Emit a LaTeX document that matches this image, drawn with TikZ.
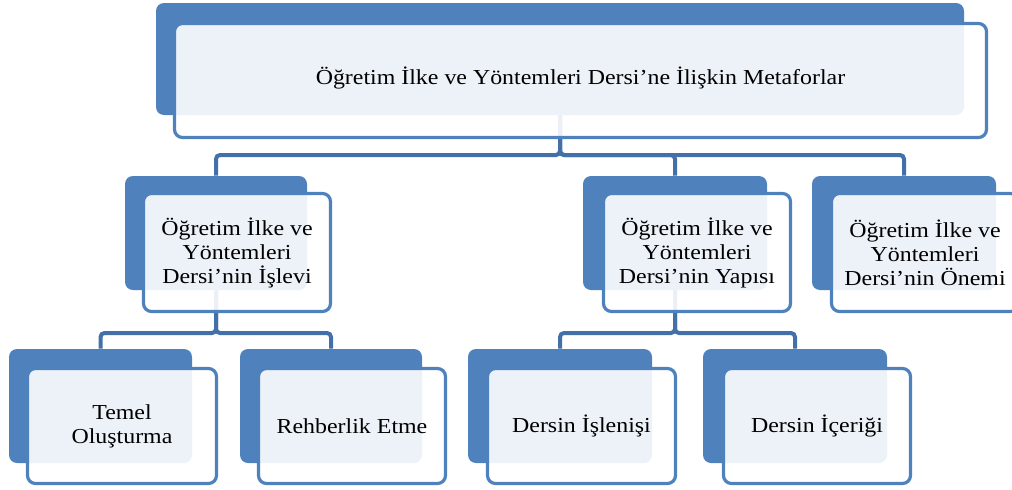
\documentclass[tikz,border=0pt]{standalone}
\usepackage{fontspec}
\setmainfont{Liberation Serif}[FakeStretch=1.12]
\usetikzlibrary{fit}
\definecolor{acc}{HTML}{4F81BD}
\definecolor{conncol}{HTML}{4370A8}
\tikzset{
  backbox/.style={draw=none, fill=acc, rounded corners=6pt, inner sep=0pt},
  frontbox/.style={draw=acc, line width=2.4pt, fill=white, fill opacity=0.9, text opacity=1,
    rounded corners=6pt, inner sep=0pt, align=center, font=\fontsize{16pt}{18pt}\selectfont},
  conn/.style={draw=conncol, line width=3pt, rounded corners=3pt}
}
\begin{document}
\begin{tikzpicture}[x=0.75pt, y=-0.75pt]
\clip (0,0) rectangle (1012,489);
% back boxes
\node[backbox, fit={(156,3) (964,115)}] (tb) {};
\node[backbox, fit={(125,176) (307,290)}] (ab) {};
\node[backbox, fit={(583,176) (767,290)}] (bb) {};
\node[backbox, fit={(812,176) (996,290)}] (cb) {};
\node[backbox, fit={(9,349) (192,463)}] (a1b) {};
\node[backbox, fit={(240,349) (422,463)}] (a2b) {};
\node[backbox, fit={(468,349) (652,463)}] (b1b) {};
\node[backbox, fit={(703,349) (887,463)}] (b2b) {};
% bus coordinates
\coordinate (bus1) at (0,155);
\coordinate (bus2) at (0,333);
% connectors
\draw[conn] (tb.south) -- (tb.south |- bus1) -| (ab.north);
\draw[conn] (tb.south) -- (tb.south |- bus1) -| (bb.north);
\draw[conn] (tb.south) -- (tb.south |- bus1) -| (cb.north);
\draw[conn] (ab.south) -- (ab.south |- bus2) -| (a1b.north);
\draw[conn] (ab.south) -- (ab.south |- bus2) -| (a2b.north);
\draw[conn] (bb.south) -- (bb.south |- bus2) -| (b1b.north);
\draw[conn] (bb.south) -- (bb.south |- bus2) -| (b2b.north);
% front boxes
\node[frontbox, fit={(174.5,23.5) (986.5,137.5)}] (tf) {};
\node at ([yshift=2pt]tf.center) {\fontsize{16pt}{18pt}\selectfont Öğretim İlke ve Yöntemleri Dersi’ne İlişkin Metaforlar};
\node[frontbox, fit={(143.5,193.5) (330.5,311.5)}] (af) {};
\node[align=center, font=\fontsize{16pt}{18pt}\selectfont] at (af.center) {Öğretim İlke ve\\Yöntemleri\\Dersi’nin İşlevi};
\node[frontbox, fit={(603.5,193.5) (790.5,311.5)}] (bf) {};
\node[align=center, font=\fontsize{16pt}{18pt}\selectfont] at (bf.center) {Öğretim İlke ve\\Yöntemleri\\Dersi’nin Yapısı};
\node[frontbox, fit={(831.5,193.5) (1018.5,311.5)}] (cf) {};
\node[align=center, font=\fontsize{16pt}{18pt}\selectfont] at (cf.center) {Öğretim İlke ve\\Yöntemleri\\Dersi’nin Önemi};
\node[frontbox, fit={(27.5,368.5) (216.5,483.5)}] (a1f) {};
\node[align=center, font=\fontsize{16pt}{18pt}\selectfont] at (a1f.center) {Temel\\Oluşturma};
\node[frontbox, fit={(258.5,368.5) (445.5,483.5)}] (a2f) {};
\node[align=center, font=\fontsize{16pt}{18pt}\selectfont] at (a2f.center) {Rehberlik Etme};
\node[frontbox, fit={(487.5,368.5) (675.5,483.5)}] (b1f) {};
\node[align=center, font=\fontsize{16pt}{18pt}\selectfont] at (b1f.center) {Dersin İşlenişi};
\node[frontbox, fit={(723.5,368.5) (910.5,483.5)}] (b2f) {};
\node[align=center, font=\fontsize{16pt}{18pt}\selectfont] at (b2f.center) {Dersin İçeriği};
\end{tikzpicture}
\end{document}
